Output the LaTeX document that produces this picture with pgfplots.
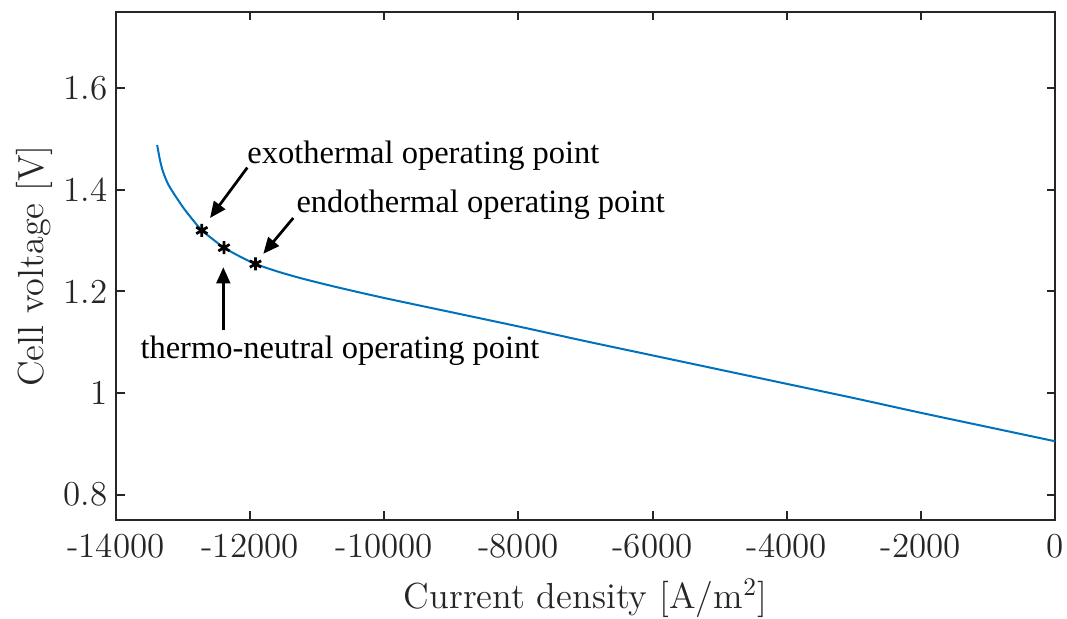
\documentclass[border=0pt]{standalone}
\usepackage{pgfplots}
\pgfplotsset{compat=1.18}
\usepackage{fontspec}
\newfontfamily\annfont{Liberation Serif}
\usetikzlibrary{arrows.meta}
\definecolor{axgray}{HTML}{262626}
\definecolor{mblue}{HTML}{0072BD}

\begin{document}
\begin{tikzpicture}
\begin{axis}[
  scale only axis,
  width=375.6pt, height=203.2pt,
  xmin=-14000, xmax=0,
  ymin=0.75, ymax=1.75,
  scaled x ticks=false,
  xtick={-14000,-12000,-10000,-8000,-6000,-4000,-2000,0},
  xticklabels={-14000,-12000,-10000,-8000,-6000,-4000,-2000,0},
  ytick={0.8,1,1.2,1.4,1.6},
  yticklabels={0.8,1,1.2,1.4,1.6},
  tick align=inside,
  major tick length=3.4pt,
  axis line style={axgray, line width=0.8pt},
  every tick/.style={axgray, line width=0.8pt},
  tick label style={font=\fontsize{14}{16}\selectfont, text=axgray},
  xticklabel style={yshift=-2pt},
  label style={font=\fontsize{14.5}{17}\selectfont, text=axgray},
  xlabel={Current density [A/m\textsuperscript{2}]},
  ylabel={Cell voltage [V]},
  xlabel style={at={(axis description cs:0.5,-0.1535)}, anchor=center},
  ylabel style={at={(axis description cs:-0.0873,0.5)}, anchor=center},
  clip=false,
]
% polarisation curve
\addplot[mblue, line width=0.8pt, smooth, tension=0.5] coordinates {
  (-13386,1.488) (-13345,1.459) (-13300,1.436) (-13230,1.413)
  (-13150,1.395) (-13060,1.377) (-12970,1.360) (-12850,1.340)
  (-12720,1.320) (-12550,1.302) (-12390,1.286) (-12150,1.2685)
  (-11920,1.254) (-11600,1.2395) (-11300,1.228) (-11000,1.2177)
  (-10600,1.205) (-10000,1.187) (-9000,1.159)
  (-8000,1.131) (-7000,1.102) (-6000,1.074) (-5000,1.046)
  (-4000,1.018) (-3000,0.990) (-2000,0.961) (-1000,0.933)
  (0,0.905)
};
% operating points
\addplot[only marks, mark=asterisk, mark size=2.6pt, black, line width=1.1pt]
  coordinates {(-12720,1.320) (-12390,1.286) (-11920,1.254)};

\coordinate (bl) at (rel axis cs:0,0);
\coordinate (tr) at (rel axis cs:1,1);

\node[anchor=base west, inner sep=0pt, font=\annfont\fontsize{13}{15}\selectfont]
  at (axis cs:-12047,1.451) {exothermal operating point};
\node[anchor=base west, inner sep=0pt, font=\annfont\fontsize{13}{15}\selectfont]
  at (axis cs:-11316,1.3555) {endothermal operating point};
\node[anchor=base west, inner sep=0pt, font=\annfont\fontsize{13}{15}\selectfont]
  at (axis cs:-13642,1.068) {thermo-neutral operating point};

\draw[-{Triangle[length=6.5pt,width=5.5pt]}, line width=1.1pt, black]
  (axis cs:-12042,1.4437) -- (axis cs:-12598,1.3445);
\draw[-{Triangle[length=6.5pt,width=5.5pt]}, line width=1.1pt, black]
  (axis cs:-11357,1.3445) -- (axis cs:-11804,1.2739);
\draw[-{Triangle[length=6.5pt,width=5.5pt]}, line width=1.1pt, black]
  (axis cs:-12400,1.1235) -- (axis cs:-12400,1.2476);
\end{axis}
\pgfresetboundingbox
\path[use as bounding box] ([shift={(-46.4pt,-39.6pt)}]bl) rectangle ([shift={(4.8pt,4.8pt)}]tr);
\end{tikzpicture}
\end{document}
